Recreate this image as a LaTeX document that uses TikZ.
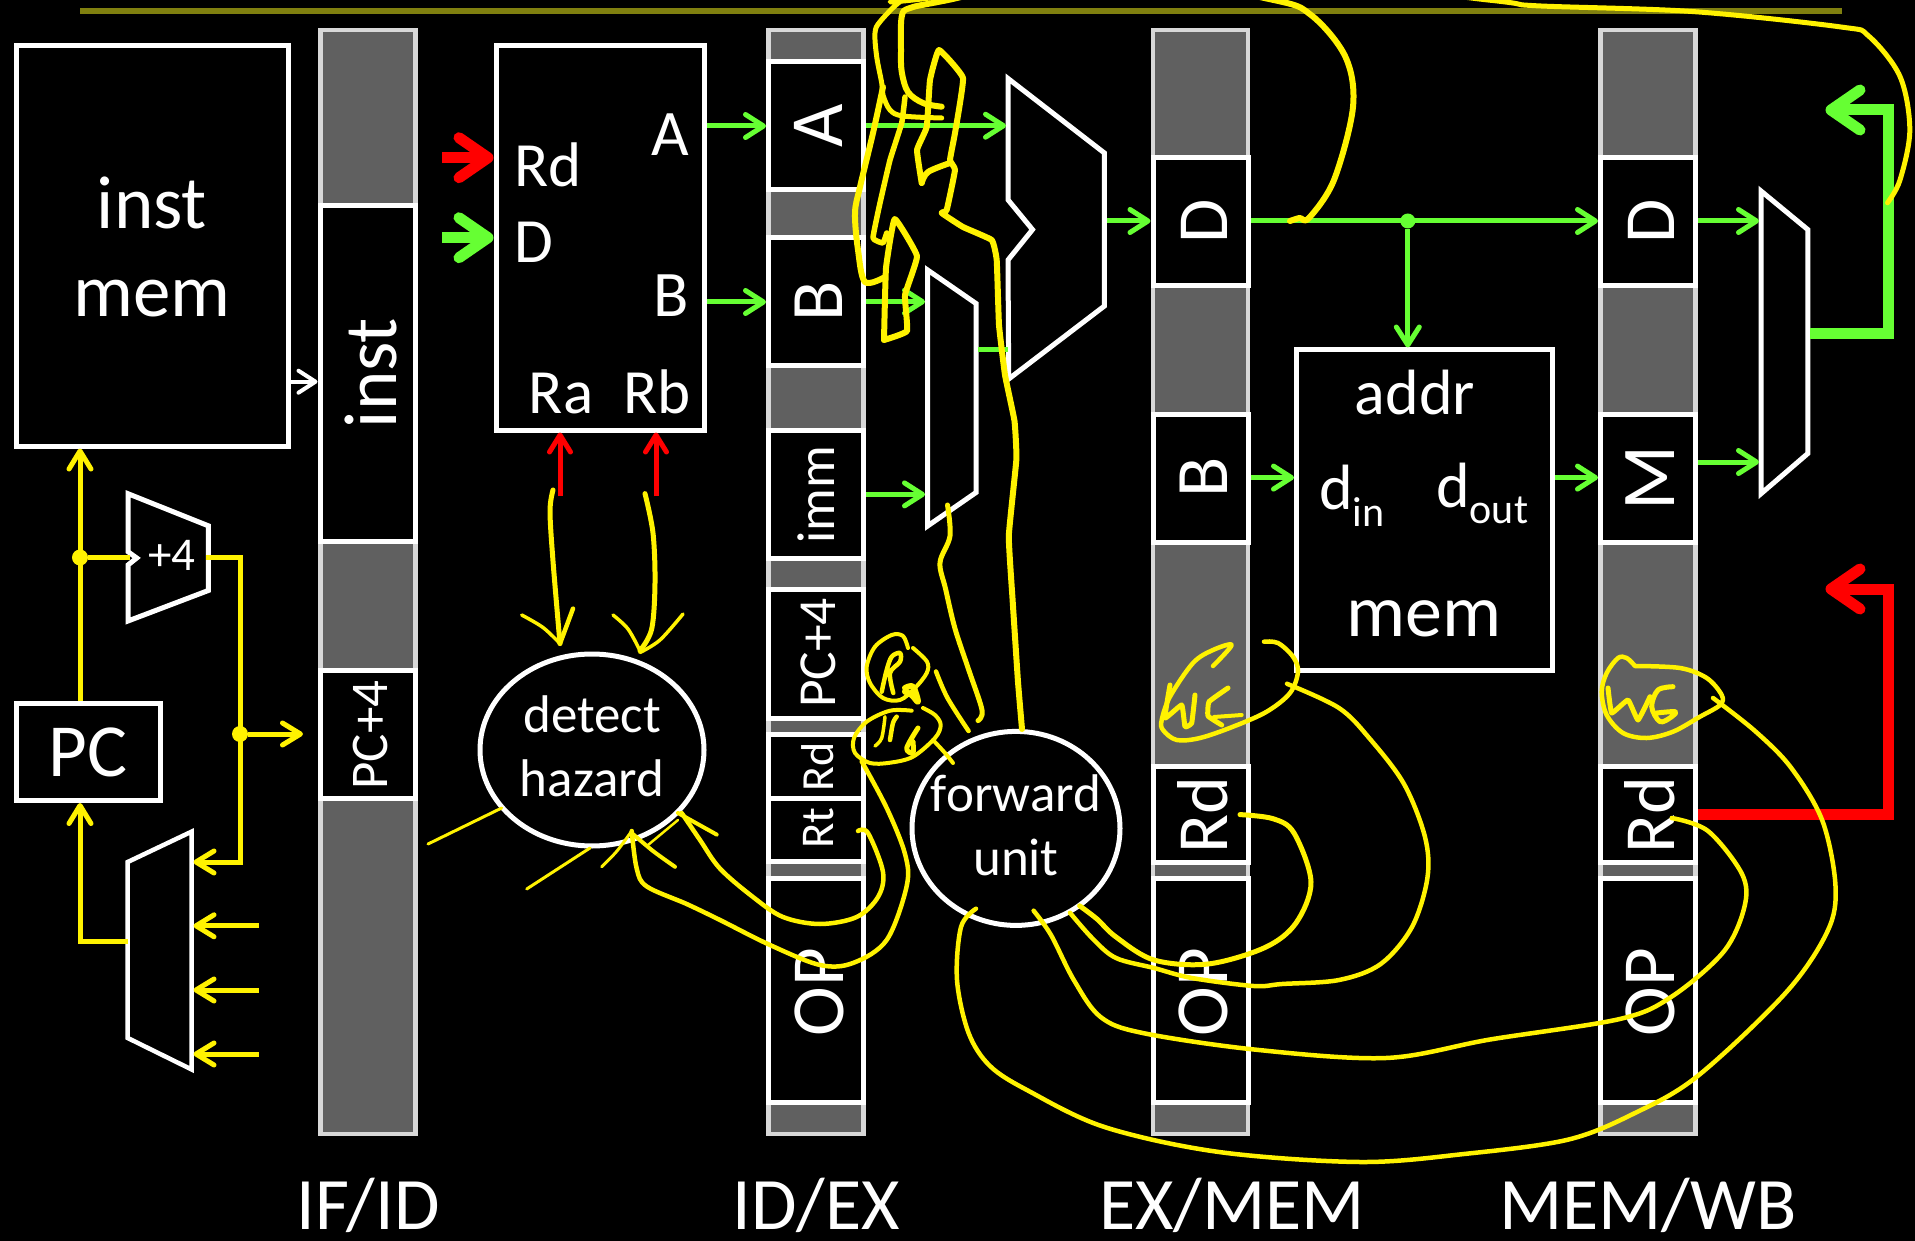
\documentclass[tikz,border=0pt]{standalone}
\usepackage{fontspec}
\setmainfont{Carlito}
\usetikzlibrary{arrows.meta,shapes.geometric,calc}
\definecolor{gwire}{HTML}{66FF33}
\definecolor{regfill}{HTML}{606060}
\definecolor{regedge}{HTML}{D8D8D8}
\definecolor{olive}{HTML}{80800F}
\tikzset{
  x=1pt,y=-1pt,
  reg/.style={draw=regedge,fill=regfill,line width=4.5pt,inner sep=0pt,minimum width=95pt},
  cellbox/.style={draw=white,fill=black,line width=5pt,inner sep=0pt,minimum width=95pt},
  block/.style={draw=white,fill=black,line width=5pt,inner sep=0pt},
  muxshape/.style={draw=white,fill=black,line width=5pt,line join=miter},
  lab/.style={text=white,inner sep=0pt,font=\fontsize{#1}{#1}\selectfont},
  vlab/.style={text=white,inner sep=0pt,rotate=90,anchor=base,font=\fontsize{#1}{#1}\selectfont},
  twolab/.style 2 args={text=white,inner sep=0pt,align=center,font=\fontsize{#1}{#2}\selectfont},
  gw/.style={draw=gwire,line width=5pt,-{Straight Barb[length=18pt,width=23pt,round]}},
  gplain/.style={draw=gwire,line width=5pt},
  yw/.style={draw=yellow,line width=5pt},
  ya/.style={draw=yellow,line width=5pt,-{Straight Barb[length=18pt,width=22pt,round]}},
  wa/.style={draw=white,line width=4pt,-{Straight Barb[length=17pt,width=22pt,round]}},
  ra/.style={draw=red,line width=5pt,-{Straight Barb[length=17pt,width=21pt,round]}},
  thickg/.style={draw=gwire,line width=11pt,-{Straight Barb[length=29pt,width=40pt,round]}},
  thickr/.style={draw=red,line width=11pt,-{Straight Barb[length=29pt,width=40pt,round]}},
  ink/.style={draw=yellow,line cap=round,line join=round},
  dotg/.style={circle,fill=gwire,inner sep=0pt,minimum size=15pt},
  doty/.style={circle,fill=yellow,inner sep=0pt,minimum size=16pt},
}
\newcommand{\regbar}[2]{\node[reg,minimum height=1104pt] (#1) at (#2,582) {};}
\newcommand{\regcell}[4]{\node[cellbox,minimum height={(#4-#3)*1pt}] (#1) at (#2,{(#3+#4)/2}) {};}
\newcommand{\inkpath}[2]{\draw[ink,line width=#1pt] plot[smooth,tension=.55] coordinates {#2};}
\newcommand{\inksharp}[2]{\draw[ink,line width=#1pt] plot[smooth,tension=.2] coordinates {#2};}
\begin{document}
\begin{tikzpicture}
\useasboundingbox (0,0) rectangle (1915,1241);
\fill[black] (0,0) rectangle (1915,1241);
\draw[olive,line width=5.5pt] (80,11) -- (1842,11);

% pipeline registers
\regbar{ifid}{368}
\regcell{ifInst}{368}{205.5}{541}
\regcell{ifPc}{368}{670}{798}
\regbar{idex}{816}
\regcell{idA}{816}{62}{190}
\regcell{idB}{816}{238}{366}
\regcell{idImm}{816}{430}{558}
\regcell{idPc}{816}{589}{718}
\regcell{idRd}{816}{734}{798}
\regcell{idRt}{816}{798}{861}
\regcell{idOp}{816}{878}{1102}
\regbar{exmem}{1200.5}
\regcell{exD}{1200.5}{158}{286}
\regcell{exB}{1200.5}{414}{542}
\regcell{exRd}{1200.5}{766}{862}
\regcell{exOp}{1200.5}{878}{1102}
\regbar{memwb}{1648}
\regcell{wbD}{1648}{158}{286}
\regcell{wbM}{1648}{414}{542}
\regcell{wbRd}{1648}{766}{862}
\regcell{wbOp}{1648}{878}{1102}

% blocks
\node[block,minimum width=272pt,minimum height=400.5pt] (imem) at (152,245.75) {};
\node[block,minimum width=208pt,minimum height=384.5pt] (regs) at (600,237.75) {};
\node[block,minimum width=256pt,minimum height=320pt] (dmem) at (1424.5,510) {};
\node[block,minimum width=144pt,minimum height=97pt] (pc) at (88,752) {};
\node[block,ellipse,minimum width=224pt,minimum height=192pt] (hazard) at (592,750) {};
\node[block,ellipse,minimum width=208pt,minimum height=194pt] (fwd) at (1016,828.4) {};

% muxes and adders
\draw[muxshape] (128,493.7) -- (208.3,525.8) -- (208.3,590.5) -- (128,621) -- (128,565) -- (136.7,558) -- (128,551.7) -- cycle;
\draw[muxshape,line width=4.5pt] (127.7,862) -- (191.7,831.6) -- (191.7,1069.5) -- (127.7,1038) -- cycle;
\draw[muxshape] (1008,78.5) -- (1104.4,153) -- (1104.4,306) -- (1008.7,379) -- (1008,260) -- (1032.5,229.6) -- (1008,199.8) -- cycle;
\draw[muxshape] (927.6,270) -- (976,303.5) -- (976,492.5) -- (927.6,526) -- cycle;
\draw[muxshape] (1761,191) -- (1807.8,229.6) -- (1807.8,453.5) -- (1761,493.7) -- cycle;

% connector ends
\coordinate (ifInstIn) at (317.5,381.7);
\coordinate (rfRdIn) at (442,157.7);
\coordinate (rfDIn) at (442,237.7);
\coordinate (rfRdTip) at (493.5,157.7);
\coordinate (rfDTip) at (493.5,237.7);
\coordinate (rfRaTail) at (560,496.4);
\coordinate (rfRbTail) at (656,496.4);
\coordinate (aluA) at (1006,125.7);
\coordinate (mux2B) at (925,301.7);
\coordinate (mux2I) at (925,494.4);
\coordinate (mux2Out) at (978,349.8);
\coordinate (aluB) at (1008,349.8);
\coordinate (aluOut) at (1106.5,221);
\coordinate (dmemDin) at (1294,477.6);
\coordinate (dmemDout) at (1555,477.6);
\coordinate (mux3D) at (1759,221);
\coordinate (mux3M) at (1759,462);
\coordinate (mux3Out) at (1810,334);
\coordinate (wbGreenCorner) at (1888,334);
\coordinate (wbGreenTop) at (1888,110);
\coordinate (wbGreenTip) at (1825.5,110);
\coordinate (wbRedCorner) at (1888,814);
\coordinate (wbRedTop) at (1888,589);
\coordinate (wbRedTip) at (1825.5,589);
\coordinate (addIn) at (130,557.5);
\coordinate (addOut) at (206,557.5);
\coordinate (muxIn1) at (193.5,862);
\coordinate (muxIn2) at (193.5,925.8);
\coordinate (muxIn3) at (193.5,990);
\coordinate (muxIn4) at (193.5,1054);
\coordinate (muxTail2) at (258.7,925.8);
\coordinate (muxTail3) at (258.7,990);
\coordinate (muxTail4) at (258.7,1054);
\coordinate (muxOut) at (128,941.4);
\coordinate (pcPlusTip) at (303,734);
\node[dotg] (dotD) at (1407.8,221) {};
\node[doty] (dotPc) at (80,557.5) {};
\node[doty] (dotAdd) at (240,734) {};

% white and red connectors
\draw[wa] (imem.east |- ifInstIn) -- (ifInstIn);
\draw[thickr] (rfRdIn) -- (rfRdTip);
\draw[thickg] (rfDIn) -- (rfDTip);
\draw[ra] (rfRaTail) -- (rfRaTail |- regs.south);
\draw[ra] (rfRbTail) -- (rfRbTail |- regs.south);

% green connectors
\draw[gw] (regs.east |- idA.west) -- (idA.west);
\draw[gw] (regs.east |- idB.west) -- (idB.west);
\draw[gw] (idA.east |- aluA) -- (aluA);
\draw[gw] (idB.east |- mux2B) -- (mux2B);
\draw[gw] (idImm.east |- mux2I) -- (mux2I);
\draw[gplain] (mux2Out) -- (aluB);
\draw[gw] (aluOut) -- (exD.west |- aluOut);
\draw[gw] (exD.east |- aluOut) -- (wbD.west |- aluOut);
\draw[gw] (dotD) -- (dotD |- dmem.north);
\draw[gw] (exB.east |- dmemDin) -- (dmemDin);
\draw[gw] (dmemDout) -- (wbM.west |- dmemDout);
\draw[gw] (wbD.east |- mux3D) -- (mux3D);
\draw[gw] (wbM.east |- mux3M) -- (mux3M);
\draw[thickg] (mux3Out) -- (wbGreenCorner) -- (wbGreenTop) -- (wbGreenTip);
\draw[thickr] (wbRd.east |- wbRedCorner) -- (wbRedCorner) -- (wbRedTop) -- (wbRedTip);

% yellow connectors
\draw[ya] (dotPc |- pc.north) -- (dotPc |- imem.south);
\draw[yw] (dotPc) -- (addIn);
\draw[ya] (addOut) -- (addOut -| dotAdd) -- (dotAdd |- muxIn1) -- (muxIn1);
\draw[ya] (dotAdd) -- (pcPlusTip);
\draw[ya] (muxOut) -- (muxOut -| dotPc) -- (dotPc |- pc.south);
\draw[ya] (muxTail2) -- (muxIn2);
\draw[ya] (muxTail3) -- (muxIn3);
\draw[ya] (muxTail4) -- (muxIn4);

% text in blocks
\node[twolab={75}{88}] (imemT) at (152,247) {inst\\mem};
\node[lab=63,anchor=base west] (rfRd) at (514,187) {Rd};
\node[lab=63,anchor=base west] (rfD) at (514,262.7) {D};
\node[lab=65,anchor=base] (rfA) at (670,156) {A};
\node[lab=65,anchor=base] (rfB) at (671,317) {B};
\node[lab=63,anchor=base] (rfRa) at (561,413.7) {Ra};
\node[lab=63,anchor=base] (rfRb) at (657,413.7) {Rb};
\node[lab=75,anchor=base] (pcT) at (88,776.8) {PC};
\node[lab=47,anchor=base] (addT) at (172,570) {+4};
\node[twolab={53}{64}] (hazT) at (592,746) {detect\\hazard};
\node[twolab={53}{64}] (fwdT) at (1016,825) {forward\\unit};
\node[lab=64,anchor=base] (dmemA) at (1415,414) {addr};
\node[lab=64,anchor=base west] (dmemI) at (1319,509) {d\raisebox{-17pt}{\fontsize{42}{42}\selectfont in}};
\node[lab=64,anchor=base west] (dmemO) at (1436,507) {d\raisebox{-16pt}{\fontsize{42}{42}\selectfont out}};
\node[lab=74,anchor=base] (dmemM) at (1423.6,636) {mem};

% register labels
\node[vlab=75] (lInst) at (396,373) {inst};
\node[vlab=53] (lPc) at (387,735) {PC+4};
\node[vlab=75] (lA) at (842.7,126) {A};
\node[vlab=74] (lB) at (842.7,301) {B};
\node[vlab=53.5] (lImm) at (834.6,495) {imm};
\node[vlab=53.5] (lPc2) at (835,653) {PC+4};
\node[vlab=46] (lRd) at (833,767) {Rd};
\node[vlab=47] (lRt) at (833,828) {Rt};
\node[vlab=75] (lOp) at (843.4,992) {OP};
\node[vlab=72] (lD2) at (1227,221) {D};
\node[vlab=74] (lB2) at (1227,477) {B};
\node[vlab=72] (lRd2) at (1227,815) {Rd};
\node[vlab=75] (lOp2) at (1227,992) {OP};
\node[vlab=72] (lD3) at (1674.5,221) {D};
\node[vlab=76] (lM3) at (1674.5,478) {M};
\node[vlab=72] (lRd3) at (1674.5,815) {Rd};
\node[vlab=75] (lOp3) at (1674.5,992) {OP};
\node[lab=74,anchor=base] (cap1) at (368,1229.5) {IF/ID};
\node[lab=74,anchor=base] (cap2) at (816,1229.5) {ID/EX};
\node[lab=74,anchor=base] (cap3) at (1232,1229.5) {EX/MEM};
\node[lab=74,anchor=base] (cap4) at (1648,1229.5) {MEM/WB};

% handwritten ink
\inkpath{6}{(1290,221) (1299.6,218) (1309,218) (1334,180) (1353,107) (1345.5,57) (1311,15) (1269,-1) (1100,-30) (948,0) (910,8) (901.7,16.7) (901,50) (901.7,71.7) (908,92) (923,103) (941.7,106.7)}
\inkpath{5}{(1887.5,202.8) (1900,180) (1909.8,130) (1900,76.5) (1868.6,36) (1841,27) (1692,11.5) (1535,5.7) (1488,0) (1200,-30) (913,0) (900,1.7) (880,21.7) (875,33) (876.7,56.7) (881.7,83) (883,95) (890,110) (903,116) (941.7,118)}
\inkpath{6}{(883,87) (873,133) (860,187) (855,213) (858,250) (865,282) (885,277)}
\inksharp{5.5}{(905,97) (901.7,123) (890,160) (880,203) (873,238) (883,243) (886.7,233)}
\inksharp{6}{(921.7,183) (917,150) (926.7,127) (930,80) (939,50) (963,78) (955,133) (950,160) (955,170) (946.7,210) (941.7,213) (963,227) (991.7,240) (996.7,260) (999,325) (1005,375) (1014.5,421) (1016.4,459) (1008.8,536) (1012.6,600) (1018,682) (1022,729)}
\inkpath{6}{(921.7,183) (928,172) (950,163)}
\inksharp{6}{(884,340) (886,268) (894.7,219) (917,256) (905,295) (907,331) (884,340)}
\inkpath{5}{(947.5,505) (950,536) (940,562.6) (945.6,589) (955,628.6) (968.6,669.5) (982,710) (978,720.6)}
\inkpath{4.5}{(936,671.5) (947.5,698) (968.6,731)}
% Ra
\inkpath{4}{(908,648) (903,636) (891.7,635) (875,646.7) (866.7,666.7) (870,683) (883,698) (900,700) (915,688) (926.7,673) (927,661.7) (913,648)}
\inkpath{4.5}{(881.7,691.7) (886.7,670) (891.7,656.7) (900,653) (900,661.7) (890,673) (893.3,693)}
\inkpath{6}{(905,688) (913,686.7) (918,701.7) (911.7,695) (905,691.7)}
% Rb
\inkpath{4}{(911.7,710.7) (890,710.7) (866.7,721.7) (854,738) (855,753) (870,763) (890,762.7) (913,756.7) (935,738) (940.7,725) (935,715) (923,708)}
\inkpath{3.5}{(875,746) (881.7,738) (885,716.7)}
\inkpath{4.5}{(890,740) (893,723) (896.7,716.7)}
\inkpath{5}{(918,728) (906.7,748) (913,753) (913,741.7)}
\inkpath{4}{(933,740) (945,753) (953,763)}
% strokes into detect hazard
\inkpath{4.5}{(861.7,761.4) (886.7,808) (905,854) (906.7,886) (886.7,940) (853,963) (820,965) (770,945) (720,920) (686.7,904) (646.7,886.4) (636.7,868.6) (631.7,831)}
\inkpath{4.5}{(858,831) (868,833) (883,872) (878,897) (856.7,917) (820,924) (783,917) (753,897) (720,868.6) (700,840) (681.7,813)}
\inkpath{3}{(601.7,866.8) (617,851) (631.7,831)}
\inkpath{4}{(631.7,833) (653,851) (675,866.8)}
\inkpath{4}{(678,813) (716.7,834.6)}
\inkpath{2.5}{(678,820) (648,845)}
\inkpath{3}{(590,848) (526.7,889)}
\inkpath{3}{(501.7,808) (428,844)}
\inkpath{5}{(553,490) (550,511) (553,561) (560,643.6)}
\inkpath{3.5}{(521.7,615) (543,627.5) (560,643.6)}
\inkpath{4.5}{(573,608.6) (560,643.6)}
\inkpath{5}{(645,493.6) (653,533) (655,583) (651.7,629) (640,650.7)}
\inkpath{3.5}{(613,615) (628,629) (640,650.7)}
\inkpath{3.5}{(683,614) (660,640) (640,652.5)}
% WE
\inkpath{4.5}{(1264,641.7) (1278,643) (1293,656.7) (1298,671.7) (1290,693) (1266.7,711.7) (1233,726.7) (1200,738) (1176.7,740) (1163,730) (1161.7,720) (1170,696.7) (1193,663) (1213,650) (1231.7,645) (1213,666)}
\inksharp{5}{(1170,685) (1165,718) (1181.7,705) (1185,726.7) (1191.7,723) (1195,695)}
\inksharp{5}{(1228,688) (1209,701.7) (1208,716) (1221.7,725)}
\inksharp{4}{(1214,717) (1241.7,715)}
\inkpath{4.5}{(1287,683.8) (1339,708) (1370,739) (1404,784) (1425,837) (1427.4,878) (1412,927) (1380.7,964) (1339,980) (1282,984) (1253.7,986) (1192,978) (1154,968) (1116,958) (1093,939) (1070,912.8)}
\inkpath{5}{(1240,814.6) (1273,818.7) (1294,833) (1311,882) (1296,923) (1265,947.5) (1208,964) (1154,960) (1116,937) (1097,919) (1079.6,905.8)}
% WG
\inkpath{4.5}{(1635,666) (1626.7,658) (1618,658) (1606.7,673) (1601.7,691.7) (1606.7,715) (1623,733) (1646.7,738) (1673,731.7) (1700,716.7) (1720,705) (1721.7,695) (1706.7,678) (1680,668) (1635,666)}
\inksharp{5}{(1608,688) (1611.7,713) (1628,700) (1638,720) (1650,696.7)}
\inkpath{5}{(1673,686.7) (1658,690) (1651.7,706.7) (1660,721.7) (1671.7,716.7) (1675,711.7) (1656.7,713)}
\inkpath{4.5}{(1713,698) (1755,731) (1791,767.6) (1822.4,820.8) (1835.5,886) (1827.6,931) (1786,992.5) (1697.7,1076) (1635,1113) (1567.8,1139.7) (1464,1154) (1360,1162) (1219,1152) (1104.4,1127) (1028,1090.6) (990,1066) (968.6,1033) (957,980) (961,927) (976,908.7)}
\inkpath{4.5}{(1671.7,818) (1708,831) (1742,874) (1744.5,906.6) (1723.7,951.6) (1671.7,996.6) (1619.8,1019) (1490,1039.5) (1386,1058) (1256,1049.7) (1142.7,1033) (1100.6,1017) (1073.8,980) (1051,935) (1033.6,910.7)}
\end{tikzpicture}
\end{document}
